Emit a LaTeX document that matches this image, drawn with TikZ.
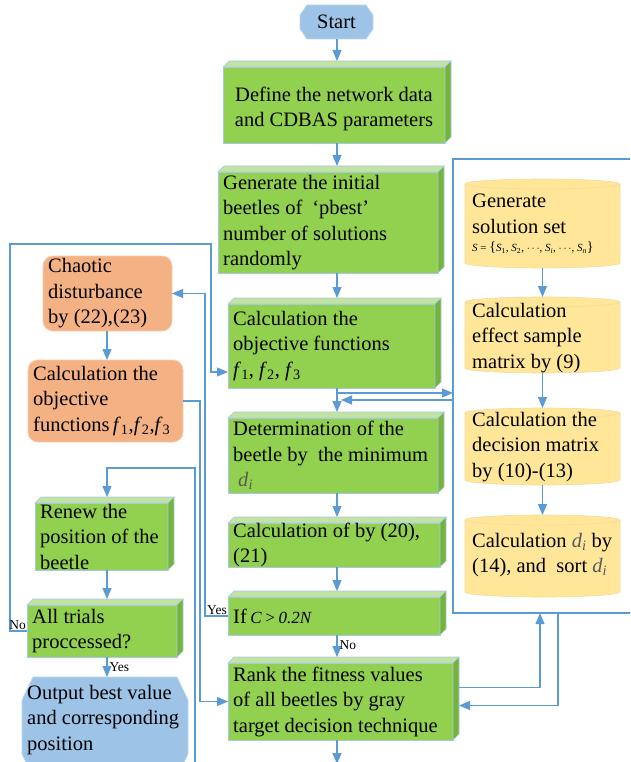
\documentclass[tikz,border=0pt]{standalone}
\usepackage{fontspec}
\setmainfont{Liberation Serif}
\usetikzlibrary{arrows.meta,calc}
\definecolor{lc}{HTML}{5B9BD5}
\definecolor{gfront}{HTML}{92D050}
\definecolor{gtopc}{HTML}{C3E3A0}
\definecolor{gsidec}{HTML}{74B43A}
\definecolor{gedge}{HTML}{A7C9E8}
\definecolor{ofill}{HTML}{F4B183}
\definecolor{oedge}{HTML}{F8CBAD}
\definecolor{bfill}{HTML}{9DC3E6}
\definecolor{bedge}{HTML}{BDD7EE}
\definecolor{yfill}{HTML}{FFE699}
\definecolor{yedge}{HTML}{F2DC9B}
\definecolor{dgrey}{HTML}{595959}

\newcommand\fs{\fontsize{20.5}{25.5}\selectfont}
\newcommand\ff[1]{\textit{f}\textsubscript{#1}}
\newcommand\dd{{\color{dgrey}\textit{d}\textsubscript{\textit{i}}}}

\tikzset{
 arr/.style={draw=lc, line width=1.2pt, -{Triangle[length=11pt,width=9pt]}},
 gface/.style={fill=gfront, draw=gedge, line width=0.6pt, inner sep=0, outer sep=0},
 gtop/.style={fill=gtopc, draw=gedge, line width=0.6pt},
 gside/.style={fill=gsidec, draw=gedge, line width=0.6pt},
 txt/.style={font=\fs, align=left, inner sep=0, text=black},
 lab/.style={font=\fontsize{13.5}{16}\selectfont, inner sep=2pt},
 oface/.style={fill=ofill, draw=oedge, line width=0.8pt, rounded corners=10pt, inner sep=0, outer sep=0},
 bface/.style={fill=bfill, draw=bedge, line width=0.8pt},
 cyl/.style={fill=yfill, draw=yedge, line width=0.6pt},
 hold/.style={inner sep=0, outer sep=0},
}

% green 3D box: name, x, y, width, height, text
\newcommand\gb[6]{%
  \node[gface, minimum width=#4pt, minimum height=#5pt, anchor=north west] (#1) at (#2,#3) {};
  \filldraw[gtop] (#1.north west) -- ([shift={(6pt,6pt)}]#1.north west) -- ([shift={(6pt,6pt)}]#1.north east) -- (#1.north east) -- cycle;
  \filldraw[gside] (#1.north east) -- ([shift={(6pt,6pt)}]#1.north east) -- ([shift={(6pt,6pt)}]#1.south east) -- (#1.south east) -- cycle;
  \coordinate (#1top) at ([yshift=6pt]#1.north);
  \node[txt, anchor=west] (#1t) at ([xshift=5pt]#1.west) {#6};
}

% cylinder: name, ytop, ybottom, height
\newcommand\cy[4]{%
  \filldraw[cyl] (465,#2+5) -- (465,#3-5) arc[start angle=180,end angle=360,x radius=77.5pt,y radius=5pt] -- (620,#2+5) arc[start angle=0,end angle=180,x radius=77.5pt,y radius=5pt] -- cycle;
  \draw[cyl, fill=none] (620,#2+5) arc[start angle=0,end angle=-180,x radius=77.5pt,y radius=5pt];
  \node[hold, minimum width=155pt, minimum height=#4pt, anchor=north west] (#1) at (465,#2) {};
}

\begin{document}
\begin{tikzpicture}[x=1pt,y=-1pt]
\useasboundingbox (0,0) rectangle (630,762);
\clip (0,0) rectangle (630,762);

\coordinate (mx) at (337,0);
\coordinate (lx) at (107,0);

% Start
\node[hold, minimum width=73pt, minimum height=34pt, anchor=north west] (start) at (300,5) {};
\filldraw[bface] ([xshift=7pt]start.north west) -- ([xshift=-7pt]start.north east) -- ([yshift=-10pt]start.north east) -- ([yshift=10pt]start.south east) -- ([xshift=-7pt]start.south east) -- ([xshift=7pt]start.south west) -- ([yshift=10pt]start.south west) -- ([yshift=-10pt]start.north west) -- cycle;
\node[txt] (startt) at (start.center) {Start};

% main column
\gb{define}{223}{67}{222}{76}{}
\node[txt, align=center] (definet) at ([yshift=-4pt]define.center) {Define the network data\\and CDBAS parameters};
\gb{generate}{218}{172}{220}{101}{Generate the initial\\beetles of\hspace{10pt}‘pbest’\\number of solutions\\randomly}
\gb{calcg}{228}{304}{207}{84}{Calculation the\\objective functions\\\ff{1}, \ff{2}, \ff{3}}
\gb{determ}{228}{418}{210}{75}{Determination of the\\beetle by\ \ the minimum\\\hspace*{5pt}\dd}
\gb{calcof}{228}{523}{212}{44}{Calculation of by (20),\\(21)}
\gb{ifbox}{228}{597}{212}{38}{If\,{\fontsize{17}{20}\selectfont\itshape C\,>\,0.2N}}
\gb{rank}{228}{663}{225}{77}{Rank the fitness values\\of all beetles by gray\\target decision technique}

% left column
\node[oface, minimum width=129pt, minimum height=75pt, anchor=north west] (chaotic) at (43,256) {};
\node[txt, anchor=west] (chaotict) at ([xshift=5pt]chaotic.west) {Chaotic\\disturbance\\by (22),(23)};
\node[oface, minimum width=155pt, minimum height=82pt, anchor=north west] (calco) at (28,360) {};
\node[txt, anchor=west] (calcot) at ([xshift=5pt]calco.west) {Calculation the\\objective\\functions\,\ff{1},\ff{2},\ff{3}};
\gb{renew}{35}{503}{133}{67}{Renew the\\position of the\\beetle}
\gb{alltr}{27}{605}{150}{52}{All trials\\proccessed?}

\node[hold, minimum width=166pt, minimum height=100pt, anchor=north west] (output) at (22,677) {};
\filldraw[bface] ([xshift=11pt]output.north west) -- ([xshift=-11pt]output.north east) -- ([yshift=-23pt]output.north east) -- ([yshift=23pt]output.south east) -- ([xshift=-11pt]output.south east) -- ([xshift=11pt]output.south west) -- ([yshift=23pt]output.south west) -- ([yshift=-23pt]output.north west) -- cycle;
\node[txt, anchor=west] (outputt) at (27,720) {Output best value\\and corresponding\\position};

% container with cylinders
\node[draw=lc, line width=1.2pt, hold, minimum width=200pt, minimum height=454pt, anchor=north west] (cont) at (453,159) {};
\cy{c1}{179}{268}{89}
\node[txt, anchor=west] (c1t) at (472,224) {Generate\\solution set\\[-7pt]{\fontsize{11}{13}\selectfont\textit{S} = {\fontsize{14}{14}\selectfont\{}\textit{S}\textsubscript{1}, \textit{S}\textsubscript{2}, $\cdots$, \textit{S}\textsubscript{\textit{i}}, $\cdots$, \textit{S}\textsubscript{\textit{n}}{\fontsize{14}{14}\selectfont\}}}};
\cy{c2}{297}{373}{76}
\node[txt, anchor=west] (c2t) at (472,338) {Calculation\\effect sample\\matrix by (9)};
\cy{c3}{408}{485}{77}
\node[txt, anchor=west] (c3t) at (472,447) {Calculation the\\decision matrix\\by (10)-(13)};
\cy{c4}{515}{597}{82}
\node[txt, anchor=west] (c4t) at (472,555) {Calculation \dd\ by\\(14), and\ \ sort \dd};

% connectors: main column
\draw[arr] (start.south -| mx) -- (definetop -| mx);
\draw[arr] (define.south -| mx) -- (generatetop -| mx);
\draw[arr] (generate.south -| mx) -- (calcgtop -| mx);
\draw[arr] (calcg.south -| mx) -- (determtop -| mx);
\draw[arr] (determ.south -| mx) -- (calcoftop -| mx);
\draw[arr] (calcof.south -| mx) -- (ifboxtop -| mx);
\draw[arr] (ifbox.south -| mx) -- node[lab, right, pos=0.45] {No} (ranktop -| mx);
\coordinate (rbot) at (337,764);
\draw[arr] (rank.south -| mx) -- (rbot);

% main column <-> container
\coordinate (b1) at (337,393);
\coordinate (b2) at (341,400);
\draw[arr] (b1) -- (b1 -| cont.west);
\draw[arr] (b2 -| cont.west) -- (b2);
\coordinate (rko) at ([shift={(6pt,14pt)}]rank.east);
\coordinate (rki) at ([shift={(6pt,-4pt)}]rank.east);
\coordinate (rk1) at (540,0);
\coordinate (rk2) at (558,0);
\draw[arr] (rko) -| (rk1 |- cont.south);
\draw[arr] (rk2 |- cont.south) |- (rki);

% cylinders
\draw[arr] (c1.south) -- (c2.north);
\draw[arr] (c2.south) -- (c3.north);
\draw[arr] (c3.south) -- (c4.north);

% left side
\draw[arr] (ifbox.west) -- ++(-23,0) |- (chaotic.east);
\node[lab, anchor=south east, inner sep=1pt] (yeslab) at (ifbox.west) {Yes};
\draw[arr] (calco.east) -- ++(17,0) |- (rank.west);
\coordinate (nA) at (10,244);
\coordinate (nB) at (211,244);
\coordinate (cgin) at ([yshift=-26pt]calcg.west);
\draw[arr] (alltr.west) -| (nA) -- (nB) |- (cgin);
\node[lab, anchor=south east, inner sep=1pt] (nolab) at (alltr.west) {No};
\draw[arr] (chaotic.south -| lx) -- (calco.north -| lx);
\draw[arr] (renew.south -| lx) -- (alltrtop -| lx);
\draw[arr] (alltr.south -| lx) -- node[lab, right, pos=0.5] {Yes} (output.north -| lx);
\coordinate (lb) at (195,766);
\coordinate (lt) at (195,468);
\draw[arr] (lb) -- (lt) -| (renewtop -| lx);
\end{tikzpicture}
\end{document}
